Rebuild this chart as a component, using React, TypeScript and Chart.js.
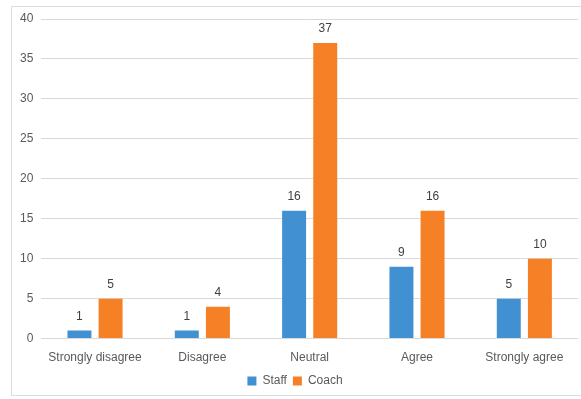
import React, { useEffect, useRef } from "react";
import { Chart, registerables, Plugin } from "chart.js";

Chart.register(...registerables);

const categories = ["Strongly disagree", "Disagree", "Neutral", "Agree", "Strongly agree"];
const staffValues = [1, 1, 16, 9, 5];
const coachValues = [5, 4, 37, 16, 10];
const seriesNames = ["Staff", "Coach"];

const FONT = "'Liberation Sans', Arial, Helvetica, sans-serif";
const TEXT = "#595959";

// Writes each bar's value just above it
const valueLabels: Plugin<"bar"> = {
  id: "valueLabels",
  afterDatasetsDraw(chart) {
    const ctx = chart.ctx;
    ctx.save();
    ctx.font = `12px ${FONT}`;
    ctx.fillStyle = "#404040";
    ctx.textAlign = "center";
    ctx.textBaseline = "bottom";
    chart.data.datasets.forEach((ds, di) => {
      const meta = chart.getDatasetMeta(di);
      meta.data.forEach((bar: any, i) => {
        const v = ds.data[i] as number;
        ctx.fillText(String(v), bar.x, bar.y - 8);
      });
    });
    ctx.restore();
  },
};

export default function App() {
  const ref = useRef<HTMLCanvasElement>(null);

  useEffect(() => {
    if (!ref.current) return;
    const chart = new Chart(ref.current, {
      type: "bar",
      data: {
        labels: categories,
        datasets: [
          {
            label: seriesNames[0],
            data: staffValues,
            backgroundColor: "#4190D2",
            categoryPercentage: 0.58,
            barPercentage: 0.77,
          },
          {
            label: seriesNames[1],
            data: coachValues,
            backgroundColor: "#F58025",
            categoryPercentage: 0.58,
            barPercentage: 0.77,
          },
        ],
      },
      options: {
        animation: false,
        responsive: true,
        maintainAspectRatio: false,
        layout: { padding: { left: 12, top: 19, right: 3, bottom: 2 } },
        plugins: {
          legend: {
            position: "bottom",
            labels: {
              boxWidth: 9,
              boxHeight: 9,
              padding: 6,
              color: TEXT,
              font: { family: FONT, size: 12 },
            },
          },
          tooltip: { enabled: false },
        },
        scales: {
          x: {
            grid: { display: false },
            border: { display: false },
            ticks: { color: TEXT, font: { family: FONT, size: 12 }, padding: 4 },
          },
          y: {
            min: 0,
            max: 40,
            ticks: { stepSize: 5, color: TEXT, font: { family: FONT, size: 12 }, padding: 8 },
            grid: { color: "#d9d9d9", drawTicks: false, lineWidth: 1 },
            border: { display: false },
          },
        },
      },
      plugins: [valueLabels],
    });
    return () => chart.destroy();
  }, []);

  return (
    <div style={{ position: "fixed", left: 0, top: 0, width: 581, height: 399, background: "#fff" }}>
      <div
        style={{
          position: "absolute",
          left: 11,
          top: 6,
          width: 580,
          height: 390,
          border: "1px solid #dcdcdc",
          boxSizing: "border-box",
        }}
      />
      <div style={{ position: "absolute", left: 0, top: 0, width: 581, height: 399 }}>
        <canvas ref={ref} />
      </div>
    </div>
  );
}
